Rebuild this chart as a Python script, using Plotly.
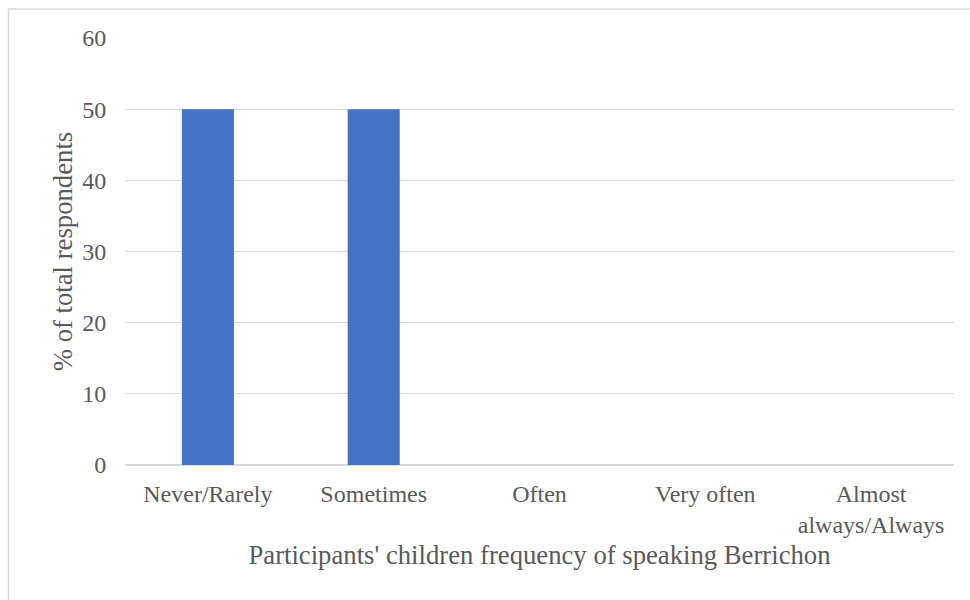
import plotly.graph_objects as go

categories = ["Never/Rarely", "Sometimes", "Often", "Very often", "Almost<br>always/Always"]
values = [50, 50, 0, 0, 0]
y_ticks = [0, 10, 20, 30, 40, 50, 60]

W, H = 970, 600
L, R, T, B = 125, 16, 38, 135
pw, ph = W - L - R, H - T - B

fig = go.Figure(go.Bar(x=categories, y=values, marker=dict(color="#4472c4", line=dict(width=0)),
                       hoverinfo="skip"))

font_family = "Liberation Serif, Times New Roman, serif"
fig.update_layout(
    width=W, height=H,
    margin=dict(l=L, r=R, t=T, b=B, pad=0),
    paper_bgcolor="white", plot_bgcolor="white",
    bargap=0.686,
    showlegend=False,
    font=dict(family=font_family, color="#595959", size=24),
    xaxis=dict(
        showgrid=False, showline=False, zeroline=False,
        ticks="outside", ticklen=7, tickcolor="rgba(0,0,0,0)",
        tickfont=dict(size=24, color="#595959"),
        title=dict(text="Participants' children frequency of speaking Berrichon",
                   font=dict(size=26.7, color="#595959"), standoff=8),
    ),
    yaxis=dict(
        range=[0, 60], tickvals=y_ticks, ticktext=[str(v) for v in y_ticks],
        showgrid=True, gridcolor="#d9d9d9", gridwidth=1.3,
        zeroline=True, zerolinecolor="#d9d9d9", zerolinewidth=1.5,
        showline=False,
        ticks="outside", ticklen=13, tickcolor="rgba(0,0,0,0)",
        tickfont=dict(size=24, color="#595959"),
        title=dict(text="% of total respondents", font=dict(size=26.7, color="#595959"), standoff=1),
    ),
    shapes=[dict(
        type="rect", xref="paper", yref="paper",
        x0=(8.5 - L) / pw, x1=1.2,
        y0=-0.5, y1=1 + (T - 9) / ph,
        line=dict(color="#d9d9d9", width=1.5), fillcolor="rgba(0,0,0,0)", layer="below",
    )],
)

fig.write_html("out.html")
